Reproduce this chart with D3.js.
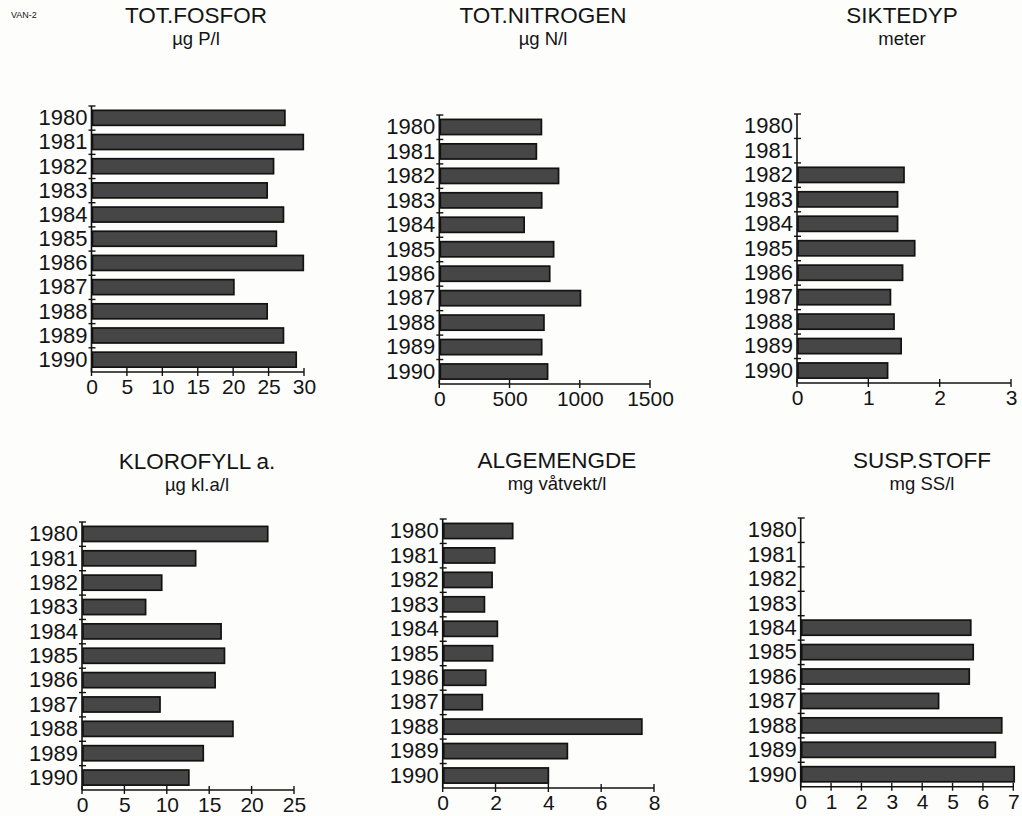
<!DOCTYPE html>
<html>
<head>
<meta charset="utf-8">
<script src="https://cdn.jsdelivr.net/npm/d3@7/dist/d3.min.js"></script>
<style>
  html, body { margin: 0; padding: 0; background: #fdfdfc; }
  svg { display: block; }
  text { font-family: "Liberation Sans", Arial, Helvetica, sans-serif; fill: #141414; }
</style>
</head>
<body>
<svg id="chart" width="1022" height="816"></svg>
<script>
// Years shown on every panel's category axis
const years = ["1980", "1981", "1982", "1983", "1984", "1985", "1986", "1987", "1988", "1989", "1990"];

// Yearly values per parameter (null = not measured)
const totFosfor   = [27.3, 29.9, 25.7, 24.8, 27.1, 26.1, 29.9, 20.1, 24.8, 27.1, 28.9];
const totNitrogen = [727, 691, 849, 729, 604, 814, 786, 1005, 745, 729, 771];
const siktedyp    = [null, null, 1.50, 1.41, 1.41, 1.65, 1.48, 1.31, 1.36, 1.46, 1.27];
const klorofyll   = [21.9, 13.4, 9.4, 7.5, 16.4, 16.8, 15.7, 9.2, 17.8, 14.3, 12.6];
const algemengde  = [2.65, 1.97, 1.87, 1.58, 2.07, 1.89, 1.63, 1.50, 7.54, 4.72, 4.00];
const suspStoff   = [null, null, null, null, 5.60, 5.68, 5.55, 4.54, 6.62, 6.41, 7.03];

// Value-axis tick labels per panel
const fosforTicks    = [0, 5, 10, 15, 20, 25, 30];
const nitrogenTicks  = [0, 500, 1000, 1500];
const siktedypTicks  = [0, 1, 2, 3];
const klorofyllTicks = [0, 5, 10, 15, 20, 25];
const algeTicks      = [0, 2, 4, 6, 8];
const suspTicks      = [0, 1, 2, 3, 4, 5, 6, 7];

// Panel titles and units
const titles = ["TOT.FOSFOR", "TOT.NITROGEN", "SIKTEDYP", "KLOROFYLL a.", "ALGEMENGDE", "SUSP.STOFF"];
const units  = ["µg P/l", "µg N/l", "meter", "µg kl.a/l", "mg våtvekt/l", "mg SS/l"];

// Panel geometry (pixel frame of each small bar chart)
const panels = [
  { values: totFosfor,   ticks: fosforTicks,    x0: 91.5,  x1: 304,    yTop: 106, yBot: 372,   cx: 196, tY: 23,  sY: 45 },
  { values: totNitrogen, ticks: nitrogenTicks,  x0: 439.3, x1: 650,    yTop: 115, yBot: 384,   cx: 543, tY: 23,  sY: 45 },
  { values: siktedyp,    ticks: siktedypTicks,  x0: 797,   x1: 1011,   yTop: 114, yBot: 383,   cx: 902, tY: 23,  sY: 45 },
  { values: klorofyll,   ticks: klorofyllTicks, x0: 82,    x1: 294,    yTop: 522, yBot: 790,   cx: 197, tY: 469, sY: 491 },
  { values: algemengde,  ticks: algeTicks,      x0: 442.7, x1: 654,    yTop: 519, yBot: 788,   cx: 557, tY: 468, sY: 490 },
  { values: suspStoff,   ticks: suspTicks,      x0: 800.7, x1: 1013.3, yTop: 518, yBot: 786.7, cx: 922, tY: 468, sY: 490 }
];

const svg = d3.select("#chart");

// Small station code in the top-left corner
svg.append("text")
  .attr("x", 11).attr("y", 18)
  .attr("font-size", 9)
  .text("VAN-2");

panels.forEach((p, i) => {
  const g = svg.append("g");
  const ticks = p.ticks;

  const x = d3.scaleLinear()
    .domain([ticks[0], ticks[ticks.length - 1]])
    .range([p.x0, p.x1]);

  const y = d3.scaleBand()
    .domain(years)
    .range([p.yTop, p.yBot])
    .paddingInner(0)
    .paddingOuter(0);
  const bw = y.bandwidth();

  // Title and unit line
  g.append("text")
    .attr("x", p.cx).attr("y", p.tY)
    .attr("text-anchor", "middle")
    .attr("font-size", 22.5)
    .text(titles[i]);
  g.append("text")
    .attr("x", p.cx).attr("y", p.sY)
    .attr("text-anchor", "middle")
    .attr("font-size", 18.5)
    .text(units[i]);

  // Bars
  const rows = years.map((yr, k) => ({ year: yr, value: p.values[k] }))
    .filter(d => d.value !== null);
  g.selectAll("rect.bar")
    .data(rows)
    .join("rect")
    .attr("class", "bar")
    .attr("x", x(0) + 1)
    .attr("y", d => y(d.year) + bw * 0.18)
    .attr("width", d => x(d.value) - x(0) - 1)
    .attr("height", bw * 0.62)
    .attr("fill", "#464646")
    .attr("stroke", "#121212")
    .attr("stroke-width", 1.7);

  // Category axis: vertical line with short marks at band boundaries
  const yAxis = d3.axisLeft(y).tickSize(0).tickPadding(4);
  const ya = g.append("g")
    .attr("transform", `translate(${p.x0},0)`)
    .call(yAxis);
  ya.select(".domain").remove();
  ya.selectAll("text")
    .attr("font-size", 22)
    .attr("fill", "#141414")
    .attr("font-family", "Liberation Sans, Arial, sans-serif");

  g.append("line")
    .attr("x1", p.x0).attr("x2", p.x0)
    .attr("y1", p.yTop).attr("y2", p.yBot)
    .attr("stroke", "#121212").attr("stroke-width", 1.6);

  const bounds = years.map(yr => y(yr));
  g.selectAll("line.ytick")
    .data(bounds)
    .join("line")
    .attr("class", "ytick")
    .attr("x1", p.x0 - 3).attr("x2", p.x0 + 4)
    .attr("y1", d => d).attr("y2", d => d)
    .attr("stroke", "#121212").attr("stroke-width", 1.4);

  // Value axis along the bottom, ticks crossing the line
  const xAxis = d3.axisBottom(x).tickValues(ticks).tickSize(0).tickPadding(7)
    .tickFormat(d3.format("d"));
  const xa = g.append("g")
    .attr("transform", `translate(0,${p.yBot})`)
    .call(xAxis);
  xa.select(".domain").remove();
  xa.selectAll("text")
    .attr("font-size", 21)
    .attr("fill", "#141414")
    .attr("font-family", "Liberation Sans, Arial, sans-serif");

  g.append("line")
    .attr("x1", p.x0).attr("x2", p.x1)
    .attr("y1", p.yBot).attr("y2", p.yBot)
    .attr("stroke", "#121212").attr("stroke-width", 1.6);

  g.selectAll("line.xtick")
    .data(ticks)
    .join("line")
    .attr("class", "xtick")
    .attr("x1", d => x(d)).attr("x2", d => x(d))
    .attr("y1", p.yBot - 4).attr("y2", p.yBot + 4)
    .attr("stroke", "#121212").attr("stroke-width", 1.4);
});
</script>
</body>
</html>
